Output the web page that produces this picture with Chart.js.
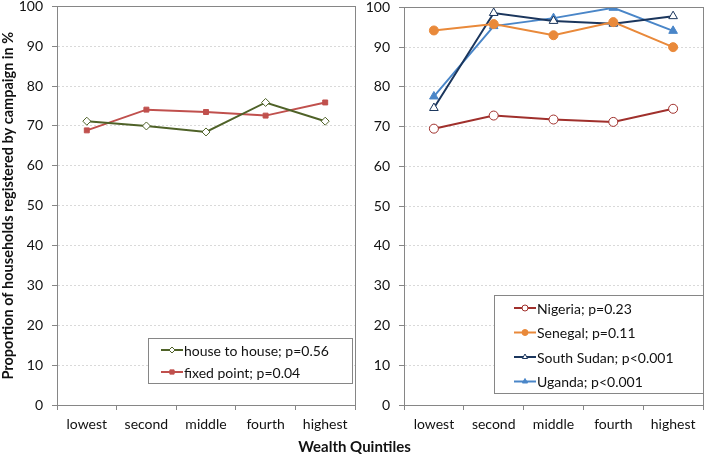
<!DOCTYPE html>
<html>
<head>
<meta charset="utf-8">
<script src="https://cdn.jsdelivr.net/npm/chart.js@4.4.0/dist/chart.umd.min.js"></script>
<style>
  html, body { margin: 0; padding: 0; background: #fff; overflow: hidden; }
  #wrap { position: relative; width: 709px; height: 456px; overflow: hidden; }
  #leftBox { position: absolute; left: 0; top: -11px; width: 360px; height: 467px; }
  #rightBox { position: absolute; left: 360px; top: -10px; width: 349px; height: 466px; }
  #xTitle { position: absolute; left: 0; width: 709px; top: 437px; text-align: center;
            font: bold 15px Lato, sans-serif; color: #111; }
</style>
</head>
<body>
<div id="wrap">
  <div id="leftBox"><canvas id="campaignChart"></canvas></div>
  <div id="rightBox"><canvas id="countryChart"></canvas></div>
  <div id="xTitle">Wealth Quintiles</div>
</div>
<script>
// ========== Data ==========
const quintiles = ['lowest', 'second', 'middle', 'fourth', 'highest'];

const houseToHouse = [71.2, 70.0, 68.5, 75.9, 71.2];
const fixedPoint   = [68.9, 74.1, 73.5, 72.6, 75.9];

const nigeria    = [69.5, 72.8, 71.8, 71.2, 74.5];
const senegal    = [94.2, 95.8, 93.0, 96.3, 90.0];
const southSudan = [74.7, 98.6, 96.6, 95.9, 97.8];
const uganda     = [77.6, 95.3, 97.3, 99.9, 94.1];

const yTicks = [0, 10, 20, 30, 40, 50, 60, 70, 80, 90, 100];

const FONT = 'Lato, sans-serif';
const AXIS_GREY = '#868686';

// Excel-style boxed legend drawn inside the plot area, plus the plot frame
const boxLegend = {
  id: 'boxLegend',
  afterDraw(chart, args, opts) {
    const { ctx, chartArea } = chart;
    ctx.save();
    // frame around plot area
    ctx.strokeStyle = AXIS_GREY;
    ctx.lineWidth = 1;
    ctx.strokeRect(Math.round(chartArea.left) + 0.5, Math.round(chartArea.top) + 0.5,
      Math.round(chartArea.width), Math.round(chartArea.height));

    const x = chartArea.right - opts.right - opts.width;
    const y = chartArea.bottom - opts.bottom - opts.height;
    ctx.fillStyle = '#fff';
    ctx.fillRect(x, y, opts.width, opts.height);
    ctx.strokeRect(Math.round(x) + 0.5, Math.round(y) + 0.5, opts.width, opts.height);

    ctx.font = '14px ' + FONT;
    ctx.textBaseline = 'middle';
    chart.data.datasets.forEach((ds, i) => {
      const rowY = y + opts.firstRow + i * opts.rowGap;
      const lx = x + opts.padLeft;
      ctx.strokeStyle = ds.borderColor;
      ctx.lineWidth = 2;
      ctx.beginPath();
      ctx.moveTo(lx, rowY);
      ctx.lineTo(lx + 22, rowY);
      ctx.stroke();
      ctx.fillStyle = ds.pointBackgroundColor;
      ctx.strokeStyle = ds.pointBorderColor;
      ctx.lineWidth = 1;
      Chart.helpers.drawPoint(ctx, { pointStyle: ds.pointStyle, radius: 3, rotation: 0, borderWidth: 1 },
        lx + 11, rowY);
      ctx.fillStyle = '#111';
      ctx.textAlign = 'left';
      ctx.fillText(ds.label, lx + 23, rowY + 1);
    });
    ctx.restore();
  }
};

function series(label, data, color, style, filled, radius) {
  return {
    label: label,
    data: data,
    borderColor: color,
    borderWidth: 2,
    pointStyle: style,
    pointRadius: radius,
    pointHoverRadius: radius,
    pointBorderColor: color,
    pointBorderWidth: 1,
    pointBackgroundColor: filled ? color : '#fff',
    tension: 0
  };
}

function makeOptions(yWidth, showTitle, legendOpts) {
  return {
    responsive: true,
    maintainAspectRatio: false,
    animation: false,
    layout: { padding: { top: 0, right: 5, bottom: 0, left: 0 } },
    plugins: {
      legend: { display: false },
      tooltip: { enabled: false },
      boxLegend: legendOpts
    },
    scales: {
      x: {
        offset: true,
        afterFit: (scale) => { scale.height = 51; },
        grid: {
          offset: true,
          drawOnChartArea: false,
          drawTicks: true,
          tickLength: 5,
          tickColor: AXIS_GREY
        },
        border: { color: AXIS_GREY },
        ticks: { color: '#111', padding: 6, font: { family: FONT, size: 14 } }
      },
      y: {
        min: 0,
        max: 100,
        afterFit: (scale) => { scale.width = yWidth; },
        afterBuildTicks: (scale) => { scale.ticks = yTicks.map(v => ({ value: v })); },
        grid: {
          color: '#d9d9d9',
          tickColor: AXIS_GREY,
          tickLength: 5,
          tickBorderDash: []
        },
        border: { color: AXIS_GREY, dash: [2, 2] },
        ticks: { color: '#111', padding: 9, font: { family: FONT, size: 14 } },
        title: {
          display: showTitle,
          text: 'Proportion of households registered by campaign in %',
          color: '#111',
          padding: { top: 0, bottom: 2 },
          font: { family: FONT, size: 14.5, weight: 'bold' }
        }
      }
    }
  };
}

new Chart(document.getElementById('campaignChart'), {
  type: 'line',
  data: {
    labels: quintiles,
    datasets: [
      series('house to house; p=0.56', houseToHouse, '#4f6228', 'rectRot', false, 4),
      series('fixed point; p=0.04', fixedPoint, '#c0504d', 'rect', true, 3.5)
    ]
  },
  options: makeOptions(57, true, {
    width: 204, height: 45, right: 3, bottom: 22,
    padLeft: 13, firstRow: 12, rowGap: 22
  }),
  plugins: [boxLegend]
});

new Chart(document.getElementById('countryChart'), {
  type: 'line',
  data: {
    labels: quintiles,
    datasets: [
      series('Nigeria; p=0.23', nigeria, '#a0302c', 'circle', false, 4.5),
      series('Senegal; p=0.11', senegal, '#e9893a', 'circle', true, 4.5),
      series('South Sudan; p<0.001', southSudan, '#1b365d', 'triangle', false, 5),
      series('Uganda; p<0.001', uganda, '#4a86c8', 'triangle', true, 5)
    ]
  },
  options: makeOptions(44, false, {
    width: 209, height: 98, right: 0, bottom: 12,
    padLeft: 20, firstRow: 13, rowGap: 24.5
  }),
  plugins: [boxLegend]
});
</script>
</body>
</html>
